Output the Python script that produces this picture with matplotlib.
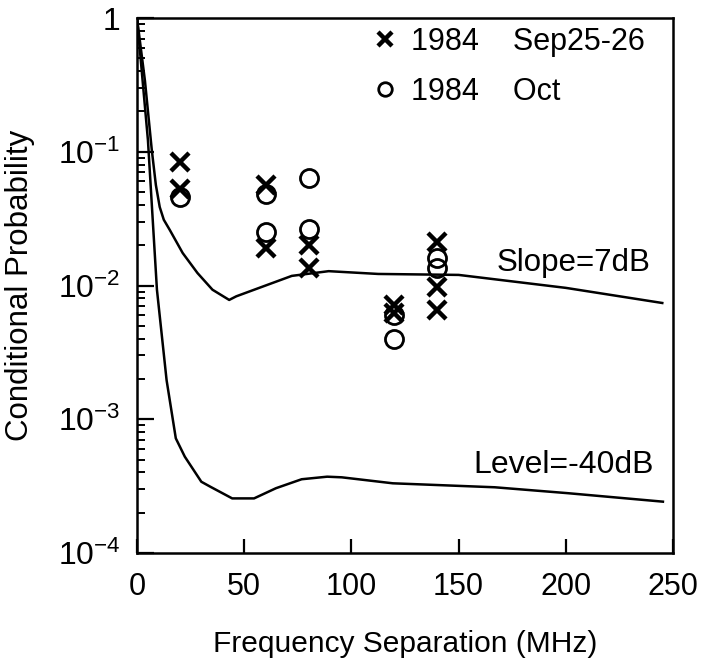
import matplotlib
matplotlib.use("Agg")
import matplotlib.pyplot as plt
from matplotlib.ticker import LogLocator, NullFormatter

plt.rcParams['font.family'] = ['Liberation Sans', 'DejaVu Sans']
plt.rcParams['mathtext.fontset'] = 'custom'
plt.rcParams['mathtext.rm'] = 'Liberation Sans'
plt.rcParams['mathtext.it'] = 'Liberation Sans'

# model curves
slope_x = [0, 3.7, 6.9, 8.8, 10.6, 12.5, 15.3, 21.3, 28.2, 35.2, 43, 46.3, 60, 72.2, 89.4,
           112.5, 150, 200, 245]
slope_y = [1.0, 0.34, 0.103, 0.0564, 0.0386, 0.031, 0.026, 0.0175, 0.0124, 0.0093, 0.0078,
           0.0083, 0.0100, 0.0118, 0.0128, 0.0122, 0.0120, 0.0096, 0.0074]

level_x = [0, 5.1, 9.3, 13.8, 18.1, 22.3, 30, 34.2, 44.4, 54.6, 64.8, 76.8, 88.7, 95.5,
           119.3, 166.9, 201, 245.3]
level_y = [1.0, 0.122, 0.0093, 0.00196, 7.2e-4, 5.25e-4, 3.41e-4, 3.13e-4, 2.56e-4, 2.56e-4,
           3.05e-4, 3.56e-4, 3.72e-4, 3.68e-4, 3.32e-4, 3.1e-4, 2.8e-4, 2.42e-4]

# measurements
sep_x = [20, 20, 60, 60, 80, 80, 120, 120, 140, 140, 140]
sep_y = [0.084, 0.053, 0.056, 0.019, 0.020, 0.0134, 0.0072, 0.0062, 0.021, 0.0098, 0.0066]

oct_x = [20, 60, 60, 80, 80, 120, 120, 140, 140]
oct_y = [0.046, 0.048, 0.0253, 0.064, 0.0263, 0.0060, 0.0040, 0.016, 0.0134]

fig = plt.figure(figsize=(7.05, 6.62), dpi=100)
ax = fig.add_axes([137 / 705, 1 - 553 / 662, 536 / 705, 535 / 662])

ax.plot(slope_x, slope_y, color='black', lw=1.8)
ax.plot(level_x, level_y, color='black', lw=1.8)
ax.plot(sep_x, sep_y, linestyle='none', marker='x', ms=13, mew=3.2, color='black',
        label='1984    Sep25-26')
ax.plot(oct_x, oct_y, linestyle='none', marker='o', ms=13, mew=2, mfc='none', mec='black',
        label='1984    Oct')

ax.set_yscale('log')
ax.set_xlim(0, 248)
ax.set_ylim(1e-4, 1)

ax.set_xticks([0, 50, 100, 150, 200, 250])
ax.set_yticks([1e-4, 1e-3, 1e-2, 1e-1, 1])
ax.set_yticklabels(['$10^{-4}$', '$10^{-3}$', '$10^{-2}$', '$10^{-1}$', '1'])
ax.yaxis.set_minor_locator(LogLocator(base=10, subs=range(2, 10)))
ax.yaxis.set_minor_formatter(NullFormatter())

ax.tick_params(axis='both', which='both', direction='in', top=False, right=False)
ax.tick_params(axis='x', which='major', length=10, width=1.6, pad=14, labelsize=22)
ax.tick_params(axis='y', which='major', length=12, width=1.6, pad=12, labelsize=23)
ax.tick_params(axis='y', which='minor', length=6, width=1.4)
for s in ax.spines.values():
    s.set_linewidth(1.8)

ax.text(239.5, 0.0147, 'Slope=7dB', ha='right', va='center', fontsize=22.5)
ax.text(241, 4.55e-4, 'Level=-40dB', ha='right', va='center', fontsize=23)

ax.legend(loc='upper left', bbox_to_anchor=(0.425, 1.0), frameon=False, fontsize=22,
          borderaxespad=0, borderpad=0.3, handlelength=0.75, handletextpad=0.45,
          labelspacing=0.65, markerscale=0.75)

ax.set_xlabel('Frequency Separation (MHz)', fontsize=21.5, labelpad=20)
ax.set_ylabel('Conditional Probability', fontsize=22.5, labelpad=16)

fig.savefig('out.png', dpi=100)
